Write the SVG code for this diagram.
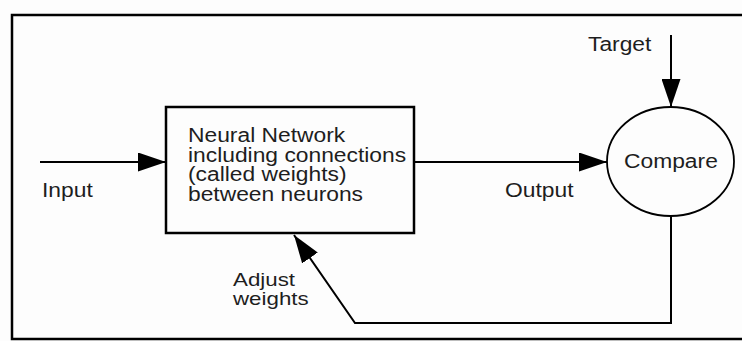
<svg xmlns="http://www.w3.org/2000/svg" width="742" height="341" viewBox="0 0 742 341">
  <style>
    .t { font-family: "Liberation Sans", Arial, sans-serif; font-size: 19.5px; fill: #1e1e1e; }
    .s { font-size: 18px; }
    .ln { fill: none; stroke: #000; stroke-width: 2; }
  </style>
  <defs>
    <marker id="ah" markerUnits="userSpaceOnUse" markerWidth="28" markerHeight="19" refX="28" refY="9.5" orient="auto">
      <path d="M0,0 L28,9.5 L0,19 Z" fill="#000"/>
    </marker>
  </defs>
  <rect x="0" y="0" width="742" height="341" fill="#fdfdfd"/>
  <g id="frame">
    <path d="M760,15 L12,15 L12,339 L760,339" fill="none" stroke="#000" stroke-width="2.5"/>
  </g>
  <g id="connectors">
    <line class="ln" x1="40" y1="162" x2="166" y2="162" marker-end="url(#ah)"/>
    <line class="ln" x1="414" y1="162" x2="607" y2="162" marker-end="url(#ah)"/>
    <line class="ln" x1="671" y1="35" x2="671" y2="107" stroke-width="3.5" marker-end="url(#ah)"/>
    <polyline class="ln" points="671,216 671,323 355,323 294,235" marker-end="url(#ah)"/>
  </g>
  <g id="network">
    <rect x="166" y="107" width="248" height="126" fill="#fdfdfd" stroke="#000" stroke-width="2.5"/>
    <text class="t" transform="translate(188,142) scale(1.17,1)">Neural Network</text>
    <text class="t" transform="translate(188,161.5) scale(1.17,1)">including connections</text>
    <text class="t" transform="translate(188,181) scale(1.17,1)">(called weights)</text>
    <text class="t" transform="translate(188,200.5) scale(1.17,1)">between neurons</text>
  </g>
  <g id="compare">
    <ellipse cx="670.5" cy="161.5" rx="63.5" ry="54.5" fill="#fdfdfd" stroke="#000" stroke-width="1.8"/>
    <text class="t" transform="translate(624,168) scale(1.17,1)">Compare</text>
  </g>
  <g id="labels">
    <text class="t" transform="translate(588,51) scale(1.17,1)">Target</text>
    <text class="t" transform="translate(42,197) scale(1.17,1)">Input</text>
    <text class="t" transform="translate(505,197) scale(1.17,1)">Output</text>
    <text class="t s" transform="translate(233,286) scale(1.24,1)">Adjust</text>
    <text class="t s" transform="translate(233,305) scale(1.24,1)">weights</text>
  </g>
</svg>
